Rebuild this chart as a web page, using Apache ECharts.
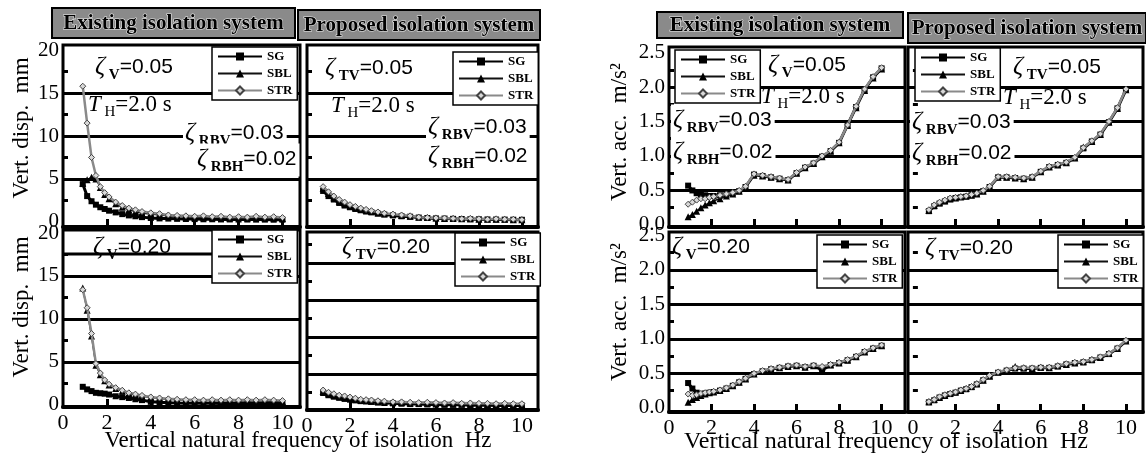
<!DOCTYPE html>
<html><head><meta charset="utf-8">
<script src="https://cdn.jsdelivr.net/npm/echarts@6/dist/echarts.min.js"></script>
<style>html,body{margin:0;padding:0;background:#fff}#c{width:1146px;height:455px}</style>
</head><body><div id="c"></div>
<script>
// ---------- DATA ----------
const FREQ_E = [0.9,1.1,1.3,1.5,1.7,1.9,2.1,2.4,2.7,3.0,3.3,3.6,4.0,4.4,4.8,5.2,5.6,6.0,6.4,6.8,7.2,7.6,8.0,8.4,8.8,9.2,9.6,10.0];
const FREQ_P = [0.75,1.0,1.25,1.5,1.75,2.0,2.25,2.5,2.75,3.0,3.3,3.6,4.0,4.4,4.8,5.2,5.6,6.0,6.4,6.8,7.2,7.6,8.0,8.4,8.8,9.2,9.6,10.0];
const FREQ_TICKS = [0,2,4,6,8,10];
const DISP_TICKS = [0,5,10,15,20];
const ACC_TICKS = [0,0.5,1.0,1.5,2.0,2.5];
const SERIES_NAMES = ['SG','SBL','STR'];

// Displacement, existing, zeta_V = 0.05 (mm)
const DISP_EX_05_SG  = [4.4,3.0,2.4,2.0,1.7,1.5,1.3,1.1,0.9,0.75,0.65,0.55,0.45,0.4,0.38,0.35,0.33,0.32,0.3,0.3,0.28,0.28,0.27,0.27,0.26,0.26,0.25,0.25];
const DISP_EX_05_SBL = [4.5,4.9,5.2,5.0,4.0,3.2,2.7,2.1,1.7,1.4,1.2,1.0,0.9,0.8,0.7,0.65,0.6,0.55,0.55,0.5,0.5,0.45,0.5,0.45,0.5,0.45,0.45,0.4];
const DISP_EX_05_STR = [15.8,11.5,7.5,5.4,4.1,3.4,2.9,2.3,1.9,1.6,1.4,1.2,1.05,0.95,0.8,0.75,0.7,0.65,0.7,0.6,0.65,0.55,0.6,0.55,0.65,0.55,0.6,0.5];
// Displacement, proposed, zeta_TV = 0.05
const DISP_PR_05_SG  = [3.6,3.0,2.6,2.2,1.9,1.7,1.5,1.35,1.2,1.1,0.95,0.85,0.75,0.65,0.6,0.5,0.45,0.4,0.38,0.35,0.33,0.3,0.3,0.28,0.27,0.26,0.25,0.24];
const DISP_PR_05_SBL = [3.9,3.3,2.8,2.4,2.1,1.85,1.65,1.5,1.35,1.2,1.05,0.95,0.85,0.75,0.65,0.55,0.5,0.45,0.4,0.4,0.35,0.35,0.3,0.3,0.3,0.3,0.25,0.25];
const DISP_PR_05_STR = [4.1,3.5,3.0,2.6,2.3,2.0,1.8,1.6,1.45,1.3,1.15,1.0,0.9,0.8,0.7,0.55,0.5,0.45,0.45,0.4,0.35,0.4,0.35,0.3,0.35,0.3,0.3,0.25];
// Displacement, existing, zeta_V = 0.20
const DISP_EX_20_SG  = [2.1,1.8,1.6,1.4,1.35,1.3,1.2,1.0,0.9,0.8,0.65,0.55,0.35,0.3,0.25,0.22,0.2,0.2,0.18,0.18,0.17,0.17,0.16,0.16,0.15,0.15,0.15,0.15];
const DISP_EX_20_SBL = [13.6,11.0,8.0,4.6,3.5,2.8,2.3,1.9,1.6,1.3,1.15,1.0,0.85,0.75,0.65,0.6,0.55,0.5,0.5,0.5,0.45,0.5,0.45,0.45,0.45,0.45,0.4,0.4];
const DISP_EX_20_STR = [13.4,11.3,8.3,4.8,3.7,2.9,2.4,2.0,1.7,1.4,1.25,1.1,0.92,0.8,0.7,0.65,0.6,0.6,0.55,0.6,0.55,0.6,0.55,0.6,0.55,0.6,0.55,0.5];
// Displacement, proposed, zeta_TV = 0.20
const DISP_PR_20_SG  = [2.4,2.1,1.9,1.75,1.6,1.5,1.4,1.3,1.25,1.2,1.1,1.05,1.0,0.95,0.9,0.9,0.85,0.85,0.8,0.8,0.8,0.75,0.75,0.75,0.7,0.7,0.7,0.7];
const DISP_PR_20_SBL = [2.6,2.3,2.1,1.9,1.8,1.7,1.55,1.45,1.4,1.3,1.25,1.2,1.1,1.1,1.05,1.0,1.0,0.95,0.95,0.9,0.9,0.9,0.85,0.85,0.85,0.85,0.8,0.8];
const DISP_PR_20_STR = [2.8,2.5,2.3,2.1,2.0,1.85,1.7,1.55,1.5,1.45,1.35,1.3,1.2,1.2,1.15,1.1,1.15,1.1,1.05,1.1,1.0,1.05,1.0,1.0,0.95,1.0,0.95,0.95];
// Acceleration, existing, zeta_V = 0.05 (m/s2)
const ACC_EX_05_SG  = [0.57,0.50,0.46,0.44,0.43,0.42,0.42,0.43,0.44,0.46,0.49,0.55,0.73,0.71,0.69,0.67,0.65,0.75,0.83,0.89,0.99,1.07,1.19,1.45,1.71,1.96,2.14,2.27];
const ACC_EX_05_SBL = [0.12,0.15,0.20,0.25,0.29,0.32,0.35,0.38,0.42,0.45,0.49,0.55,0.72,0.71,0.69,0.67,0.65,0.75,0.83,0.89,0.99,1.07,1.19,1.44,1.70,1.95,2.13,2.26];
const ACC_EX_05_STR = [0.30,0.33,0.36,0.38,0.38,0.40,0.41,0.43,0.45,0.47,0.50,0.56,0.74,0.72,0.70,0.68,0.66,0.76,0.84,0.90,1.00,1.08,1.20,1.45,1.72,1.97,2.15,2.28];
// Acceleration, proposed, zeta_TV = 0.05
const ACC_PR_05_SG  = [0.20,0.27,0.31,0.34,0.37,0.39,0.40,0.41,0.43,0.45,0.49,0.55,0.69,0.69,0.68,0.67,0.69,0.77,0.84,0.87,0.90,0.97,1.11,1.21,1.31,1.49,1.69,1.96];
const ACC_PR_05_SBL = [0.21,0.28,0.32,0.35,0.38,0.39,0.41,0.42,0.43,0.45,0.49,0.55,0.69,0.69,0.68,0.67,0.69,0.77,0.84,0.87,0.90,0.97,1.13,1.21,1.31,1.49,1.69,1.96];
const ACC_PR_05_STR = [0.22,0.29,0.33,0.36,0.39,0.40,0.41,0.42,0.44,0.46,0.50,0.56,0.70,0.70,0.69,0.68,0.70,0.78,0.85,0.88,0.91,0.98,1.12,1.22,1.32,1.50,1.70,1.97];
// Acceleration, existing, zeta_V = 0.20
const ACC_EX_20_SG  = [0.36,0.28,0.22,0.20,0.21,0.22,0.23,0.25,0.28,0.32,0.37,0.42,0.49,0.53,0.56,0.58,0.60,0.61,0.59,0.61,0.55,0.62,0.65,0.69,0.74,0.81,0.86,0.90];
const ACC_EX_20_SBL = [0.08,0.12,0.15,0.18,0.20,0.22,0.23,0.25,0.28,0.32,0.37,0.42,0.49,0.53,0.56,0.58,0.60,0.61,0.59,0.61,0.59,0.62,0.65,0.69,0.74,0.81,0.86,0.90];
const ACC_EX_20_STR = [0.20,0.18,0.19,0.21,0.22,0.23,0.24,0.26,0.29,0.33,0.38,0.43,0.50,0.54,0.57,0.59,0.61,0.62,0.60,0.62,0.60,0.63,0.66,0.70,0.75,0.82,0.87,0.91];
// Acceleration, proposed, zeta_TV = 0.20
const ACC_PR_20_SG  = [0.08,0.11,0.15,0.18,0.20,0.22,0.25,0.27,0.30,0.34,0.40,0.46,0.51,0.54,0.57,0.57,0.57,0.58,0.58,0.60,0.63,0.65,0.66,0.69,0.73,0.78,0.86,0.97];
const ACC_PR_20_SBL = [0.09,0.12,0.15,0.18,0.21,0.23,0.25,0.28,0.31,0.35,0.40,0.46,0.52,0.55,0.60,0.58,0.57,0.59,0.58,0.61,0.63,0.65,0.67,0.70,0.73,0.79,0.86,0.97];
const ACC_PR_20_STR = [0.09,0.12,0.16,0.19,0.21,0.23,0.26,0.28,0.31,0.35,0.41,0.47,0.52,0.55,0.58,0.58,0.58,0.59,0.59,0.61,0.64,0.66,0.67,0.70,0.74,0.79,0.87,0.98];

// ---------- LAYOUT / STYLE ----------
const SERIF = '"Liberation Serif","DejaVu Serif",serif';
const SANS = '"Liberation Sans",Arial,sans-serif';
const PANELS = [
  {rect:[63,45,237,182],  x:[0,10.8],   y:[-0.6,20.6], xl:false, yl:DISP_TICKS, yt:[2.5,7.5,12.5,17.5], lines:[5,10,15], fmt:v=>String(v), freq:FREQ_E, d:[DISP_EX_05_SG,DISP_EX_05_SBL,DISP_EX_05_STR], leg:[212,47]},
  {rect:[307,45,231,182], x:[0,10.75],  y:[-0.6,20.6], xl:false, yl:null, yt:[2.5,7.5,12.5,17.5], lines:[5,10,15], fmt:v=>String(v), freq:FREQ_P, d:[DISP_PR_05_SG,DISP_PR_05_SBL,DISP_PR_05_STR], leg:[453,52]},
  {rect:[63,230,237,177], x:[0,10.8],   y:[-0.25,20.35], xl:true, yl:DISP_TICKS, yt:[2.5,7.5,12.5,17.5], lines:[5,10,15], fmt:v=>String(v), freq:FREQ_E, d:[DISP_EX_20_SG,DISP_EX_20_SBL,DISP_EX_20_STR], leg:[212,230]},
  {rect:[307,232,231,178],x:[0,10.75],  y:[0.1,24.2], xl:true, yl:null, yt:[2.5,7.5,12.5,17.5,22.5], lines:[5,10,15,20], fmt:v=>String(v), freq:FREQ_P, d:[DISP_PR_20_SG,DISP_PR_20_SBL,DISP_PR_20_STR], leg:[455,233]},
  {rect:[669,47,236,180], x:[0,11.1],   y:[-0.03,2.58], xl:false, yl:ACC_TICKS, yt:[0.25,0.75,1.25,1.75,2.25], lines:[0.5,1,1.5,2], fmt:v=>v.toFixed(1), freq:FREQ_E, d:[ACC_EX_05_SG,ACC_EX_05_SBL,ACC_EX_05_STR], leg:[675,50]},
  {rect:[908,47,235,180], x:[-0.23,10.8], y:[-0.03,2.58], xl:false, yl:null, yt:[0.25,0.75,1.25,1.75,2.25], lines:[0.5,1,1.5,2], fmt:v=>v.toFixed(1), freq:FREQ_P, d:[ACC_PR_05_SG,ACC_PR_05_SBL,ACC_PR_05_STR], leg:[915,48]},
  {rect:[669,232,236,180],x:[0,11.1],   y:[-0.06,2.55], xl:true, yl:ACC_TICKS, yt:[0.25,0.75,1.25,1.75,2.25], lines:[0.5,1,1.5,2], fmt:v=>v.toFixed(1), freq:FREQ_E, d:[ACC_EX_20_SG,ACC_EX_20_SBL,ACC_EX_20_STR], leg:[817,235]},
  {rect:[908,232,235,180],x:[-0.23,10.8], y:[-0.06,2.55], xl:true, yl:null, yt:[0.25,0.75,1.25,1.75,2.25], lines:[0.5,1,1.5,2], fmt:v=>v.toFixed(1), freq:FREQ_P, d:[ACC_PR_20_SG,ACC_PR_20_SBL,ACC_PR_20_STR], leg:[1058,235]}
];
const STYLE = {
  SG:  {symbol:'rect', size:6, line:{color:'#000', width:3}, item:{color:'#000'}, z:3},
  SBL: {symbol:'triangle', size:7, line:{color:'#111', width:1.5}, item:{color:'#000'}, z:4},
  STR: {symbol:'diamond', size:6, line:{color:'#8a8a8a', width:2.5}, item:{color:'#d8d8d8', borderColor:'#444', borderWidth:1}, z:5}
};

const option = {animation:false, backgroundColor:'#fff', grid:[], xAxis:[], yAxis:[], series:[], legend:[], graphic:[]};
PANELS.forEach((p,i)=>{
  option.grid.push({left:p.rect[0], top:p.rect[1], width:p.rect[2], height:p.rect[3], show:true, borderColor:'#000', borderWidth:3, backgroundColor:'#fff'});
  option.xAxis.push({type:'value', gridIndex:i, min:p.x[0], max:p.x[1], splitLine:{show:false},
    axisLine:{show:true, onZero:false, lineStyle:{color:'#000', width:4}},
    axisTick:{show:true, inside:true, length:8, lineStyle:{color:'#000', width:3}, customValues:[2,4,6,8,10]},
    axisLabel:{show:p.xl, customValues:FREQ_TICKS, margin:5, color:'#000', fontFamily:SERIF, fontSize:22}});
  option.yAxis.push({type:'value', gridIndex:i, min:p.y[0], max:p.y[1], splitLine:{show:false}, axisLine:{show:false},
    axisTick:{show:true, inside:true, length:5, lineStyle:{color:'#000', width:3}, customValues:p.yt},
    axisLabel:{show:!!p.yl, customValues:p.yl || [], margin:4, color:'#000', fontFamily:SERIF, fontSize:21, formatter:p.fmt}});
  option.series.push({type:'line', name:'grid'+i, xAxisIndex:i, yAxisIndex:i, data:[], silent:true, z:1,
    markLine:{silent:true, symbol:['none','none'], label:{show:false}, emphasis:{disabled:true},
      lineStyle:{color:'#000', width:3, type:'solid'}, data:p.lines.map(v=>({yAxis:v}))}});
  SERIES_NAMES.forEach((n,k)=>{
    const st = STYLE[n];
    option.series.push({type:'line', name:n, xAxisIndex:i, yAxisIndex:i, silent:true,
      data:p.freq.map((f,j)=>[f, p.d[k][j]]),
      symbol:st.symbol, symbolSize:st.size, showSymbol:true, lineStyle:st.line, itemStyle:st.item, z:st.z});
  });
  option.legend.push({data:SERIES_NAMES, orient:'vertical', left:p.leg[0], top:p.leg[1], selectedMode:false,
    itemWidth:44, itemHeight:10, itemGap:4, itemTextGap:8, padding:[3,5,3,5],
    backgroundColor:'#fff', borderColor:'#000', borderWidth:1.5, z:20,
    textStyle:{fontFamily:SERIF, fontWeight:'bold', fontSize:13, color:'#000'}});
});

// ---------- TEXT ----------
const G = [];
function titleBox(x,y,w,h,text){
  G.push({type:'rect', z:50, shape:{x:x,y:y,width:w,height:h}, style:{fill:'#8a8a8a', stroke:'#000', lineWidth:2}});
  G.push({type:'text', z:51, x:x+w/2, y:y+h/2+1, style:{text:text, fill:'#000', stroke:'#e8e8e8', lineWidth:1.2,
    font:'bold 21px "Liberation Serif"', align:'center', verticalAlign:'middle'}});
}
titleBox(52,8,243,30,'Existing isolation system');
titleBox(298,10,242,30,'Proposed isolation system');
titleBox(657,12,246,26,'Existing isolation system');
titleBox(908,13,238,30,'Proposed isolation system');

const RICH = {
  z:{fontFamily:SERIF, fontSize:25, fontStyle:'italic', color:'#000'},
  s:{fontFamily:SERIF, fontSize:15, fontWeight:'bold', color:'#000', padding:[16,0,0,0]},
  n:{fontFamily:SANS, fontSize:21, color:'#000'},
  t:{fontFamily:SERIF, fontSize:23, fontStyle:'italic', color:'#000'},
  h:{fontFamily:SERIF, fontSize:15, color:'#000', padding:[14,0,0,0]},
  m:{fontFamily:SERIF, fontSize:23, color:'#000'}
};
function zeta(x,y,sub,val,bg){
  G.push({type:'text', z:60, x:x, y:y, style:{text:'{z|ζ}{s| '+sub+'}{n|='+val+'}', rich:RICH, align:'left', verticalAlign:'middle',
    backgroundColor:bg?'#fff':'transparent', padding:[0,3,2,2]}});
}
function th(x,y){
  G.push({type:'text', z:60, x:x, y:y, style:{text:'{t|T}{h| H}{m|=2.0 s}', rich:RICH, align:'left', verticalAlign:'middle'}});
}
// Panel A
zeta(93,68,'V','0.05',false); th(88,105); zeta(183,134,'RBV','0.03',true); zeta(195,160,'RBH','0.02',true);
// Panel B
zeta(323,69,'TV','0.05',false); th(331,106); zeta(426,128,'RBV','0.03',true); zeta(426,157,'RBH','0.02',true);
// Panel C, D
zeta(91,248,'V','0.20',false); zeta(340,248,'TV','0.20',false);
G.push({type:'line', z:10, shape:{x1:63,y1:254,x2:212,y2:254}, style:{stroke:'#000', lineWidth:3}});
// Panel E
zeta(766,66,'V','0.05',false); th(761,97); zeta(671,121,'RBV','0.03',true); zeta(671,153,'RBH','0.02',true);
// Panel F
zeta(1011,68,'TV','0.05',false); th(1003,98); zeta(910,123,'RBV','0.03',true); zeta(910,154,'RBH','0.02',true);
// Panel G, H
zeta(670,248,'V','0.20',false); zeta(923,249,'TV','0.20',false);

// axis names
function vname(x,y,text,size){
  G.push({type:'text', z:60, x:x, y:y, rotation:Math.PI/2, style:{text:text, fill:'#000', font:size+'px "Liberation Serif"', align:'center', verticalAlign:'middle'}});
}
vname(22,128,'Vert. disp.  mm',23); vname(22,307,'Vert. disp.  mm',23);
vname(620,132,'Vert. acc.  m/s²',23); vname(620,312,'Vert. acc.  m/s²',23);
G.push({type:'text', z:60, x:298, y:441, style:{text:'Vertical natural frequency of isolation  Hz', fill:'#000', font:'23px "Liberation Serif"', align:'center', verticalAlign:'middle'}});
G.push({type:'text', z:60, x:886, y:442, style:{text:'Vertical natural frequency of isolation  Hz', fill:'#000', font:'24px "Liberation Serif"', align:'center', verticalAlign:'middle'}});
option.graphic = G;

const chart = echarts.init(document.getElementById('c'), null, {renderer:'canvas'});
chart.setOption(option);
</script></body></html>
